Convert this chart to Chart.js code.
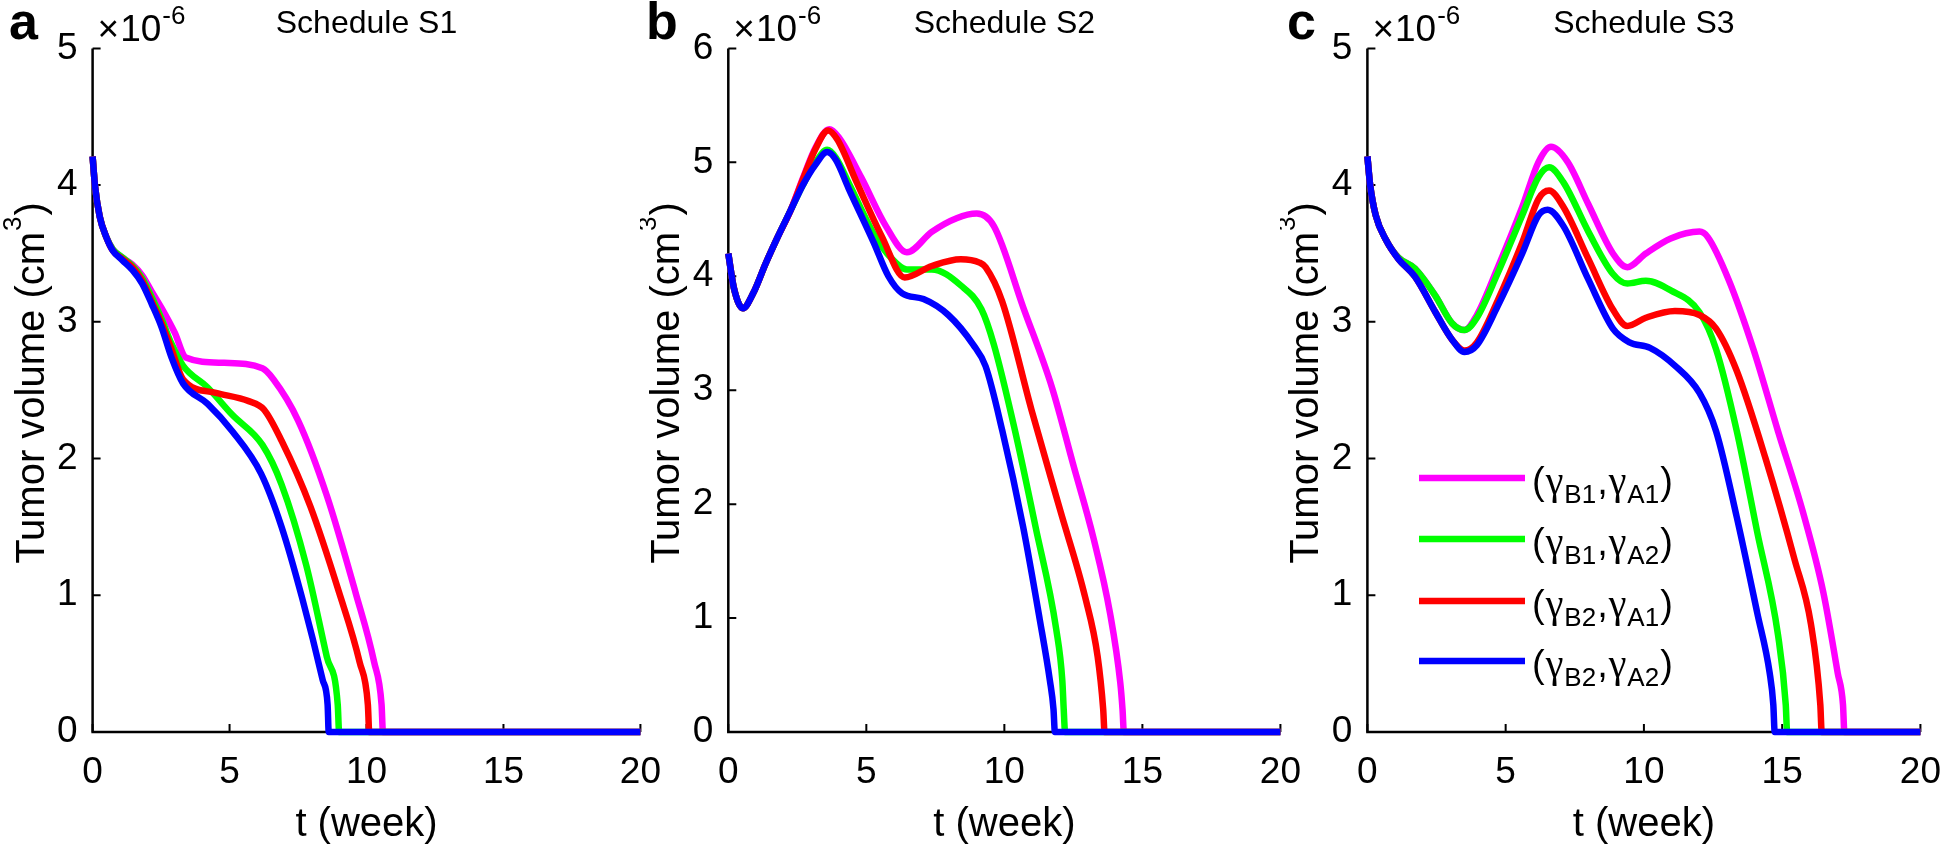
<!DOCTYPE html>
<html>
<head>
<meta charset="utf-8">
<script src="https://cdn.jsdelivr.net/npm/chart.js@4.4.1/dist/chart.umd.min.js"></script>
<style>
  html, body { margin: 0; padding: 0; background: #fff; overflow: hidden; width: 1946px; height: 844px; }
  .panel { position: absolute; top: 0; height: 844px; width: 680px; }
</style>
</head>
<body>
<div class="panel" style="left:0px"><canvas id="chartA"></canvas></div>
<div class="panel" style="left:640px"><canvas id="chartB"></canvas></div>
<div class="panel" style="left:1280px"><canvas id="chartC"></canvas></div>
<script>
// ---- data (volume in units of 1e-6 cm^3, time in weeks) ----
const xTicks = [0, 5, 10, 15, 20];
const seriesNames = ['(γB1,γA1)', '(γB1,γA2)', '(γB2,γA1)', '(γB2,γA2)'];
const seriesColors = ['#ff00ff', '#00ff00', '#ff0000', '#0000ff'];

// Schedule S1
const tA_mag = [0, 0.09, 0.26, 0.5, 0.74, 1.09, 1.45, 1.81, 2.16, 2.52, 3.0, 3.4, 4.8, 6.2, 6.6, 7.5, 8.55, 9.6, 10.28, 10.55, 10.6, 20];
const vA_mag = [4.21, 3.99, 3.77, 3.62, 3.53, 3.47, 3.42, 3.34, 3.22, 3.1, 2.92, 2.74, 2.7, 2.66, 2.58, 2.28, 1.73, 1.02, 0.51, 0.2, 0, 0];
const tA_grn = [0, 0.09, 0.26, 0.5, 0.74, 1.09, 1.45, 1.81, 2.16, 2.52, 2.88, 3.3, 4.2, 5.1, 6.2, 6.9, 7.8, 8.55, 8.95, 9.0, 20];
const vA_grn = [4.21, 3.99, 3.77, 3.62, 3.53, 3.47, 3.41, 3.32, 3.18, 3.02, 2.84, 2.68, 2.52, 2.32, 2.1, 1.81, 1.22, 0.55, 0.2, 0, 0];
const tA_red = [0, 0.09, 0.26, 0.5, 0.74, 1.09, 1.45, 1.81, 2.16, 2.52, 2.88, 3.3, 4.5, 5.7, 6.25, 6.9, 7.95, 9.0, 9.75, 10.05, 10.1, 20];
const vA_red = [4.21, 3.99, 3.77, 3.62, 3.52, 3.46, 3.4, 3.3, 3.15, 2.99, 2.8, 2.58, 2.48, 2.42, 2.36, 2.13, 1.65, 1.02, 0.51, 0.2, 0, 0];
const tA_blu = [0, 0.09, 0.26, 0.5, 0.74, 1.09, 1.45, 1.81, 2.16, 2.52, 2.88, 3.3, 4.2, 5.1, 6.15, 6.9, 7.65, 8.4, 8.58, 8.62, 20];
const vA_blu = [4.21, 3.99, 3.77, 3.62, 3.52, 3.45, 3.38, 3.28, 3.13, 2.96, 2.74, 2.55, 2.4, 2.2, 1.89, 1.5, 0.98, 0.38, 0.2, 0, 0];

// Schedule S2
const tB_mag = [0, 0.2, 0.53, 0.9, 1.35, 1.8, 2.26, 2.7, 3.16, 3.66, 4.0, 4.81, 5.71, 6.47, 7.37, 8.27, 9.0, 9.62, 10.68, 11.73, 12.48, 13.23, 13.83, 14.2, 14.28, 14.33, 20];
const vB_mag = [4.2, 3.9, 3.72, 3.85, 4.11, 4.35, 4.58, 4.86, 5.13, 5.29, 5.22, 4.87, 4.44, 4.21, 4.39, 4.51, 4.55, 4.44, 3.73, 3.02, 2.36, 1.7, 1.04, 0.43, 0.2, 0, 0];
const tB_grn = [0, 0.2, 0.53, 0.9, 1.35, 1.8, 2.26, 2.7, 3.16, 3.58, 3.9, 4.4, 5.3, 5.9, 6.47, 7.37, 8.42, 9.17, 9.62, 10.38, 11.13, 11.88, 12.1, 12.15, 12.2, 20];
const vB_grn = [4.2, 3.9, 3.72, 3.85, 4.11, 4.35, 4.58, 4.8, 5.0, 5.11, 5.04, 4.8, 4.36, 4.16, 4.06, 4.06, 3.92, 3.71, 3.4, 2.65, 1.8, 0.9, 0.45, 0.2, 0, 0];
const tB_red = [0, 0.2, 0.53, 0.9, 1.35, 1.8, 2.26, 2.7, 3.16, 3.62, 3.95, 4.66, 5.56, 6.39, 7.37, 8.42, 9.1, 9.32, 9.92, 10.98, 12.03, 12.93, 13.38, 13.58, 13.63, 20];
const vB_red = [4.2, 3.9, 3.72, 3.85, 4.11, 4.35, 4.58, 4.85, 5.12, 5.28, 5.2, 4.82, 4.35, 3.99, 4.09, 4.15, 4.12, 4.08, 3.78, 2.83, 1.94, 1.18, 0.66, 0.2, 0, 0];
const tB_blu = [0, 0.2, 0.53, 0.9, 1.35, 1.8, 2.26, 2.7, 3.16, 3.58, 3.9, 4.36, 5.26, 5.8, 6.3, 7.07, 7.97, 8.87, 9.32, 9.92, 10.68, 11.28, 11.65, 11.78, 11.83, 20];
const vB_blu = [4.2, 3.9, 3.72, 3.85, 4.11, 4.35, 4.58, 4.8, 4.98, 5.09, 5.02, 4.77, 4.3, 4.0, 3.85, 3.8, 3.66, 3.4, 3.21, 2.65, 1.8, 0.99, 0.45, 0.2, 0, 0];

// Schedule S3
const tC_mag = [0, 0.1, 0.3, 0.67, 1.12, 1.72, 2.46, 3.06, 3.51, 3.96, 4.7, 5.6, 6.19, 6.64, 7.24, 7.99, 8.88, 9.4, 10.07, 10.97, 12.01, 12.31, 13.06, 13.96, 14.85, 15.75, 16.49, 17.01, 17.2, 17.25, 20];
const vC_mag = [4.21, 4.0, 3.78, 3.6, 3.47, 3.39, 3.19, 2.99, 2.94, 3.05, 3.39, 3.84, 4.17, 4.28, 4.17, 3.86, 3.5, 3.4, 3.5, 3.61, 3.66, 3.62, 3.31, 2.8, 2.2, 1.61, 1.02, 0.43, 0.2, 0, 0];
const tC_grn = [0, 0.1, 0.3, 0.67, 1.12, 1.72, 2.46, 3.06, 3.51, 3.96, 4.7, 5.6, 6.19, 6.57, 7.09, 7.99, 8.88, 9.4, 10.07, 10.97, 12.01, 12.61, 13.36, 14.1, 14.85, 15.13, 15.18, 20];
const vC_grn = [4.21, 4.0, 3.78, 3.6, 3.47, 3.39, 3.19, 2.99, 2.94, 3.03, 3.35, 3.78, 4.06, 4.13, 4.02, 3.66, 3.35, 3.28, 3.3, 3.23, 3.07, 2.8, 2.2, 1.46, 0.71, 0.2, 0, 0];
const tC_red = [0, 0.1, 0.3, 0.67, 1.12, 1.72, 2.46, 3.06, 3.51, 3.96, 4.7, 5.6, 6.19, 6.57, 7.09, 7.99, 8.88, 9.4, 10.07, 11.12, 12.01, 12.61, 13.36, 14.4, 15.45, 16.04, 16.38, 16.43, 20];
const vC_red = [4.21, 4.0, 3.78, 3.6, 3.46, 3.33, 3.07, 2.87, 2.79, 2.85, 3.15, 3.58, 3.9, 3.96, 3.84, 3.46, 3.09, 2.97, 3.03, 3.08, 3.05, 2.95, 2.64, 2.0, 1.26, 0.79, 0.2, 0, 0];
const tC_blu = [0, 0.1, 0.3, 0.67, 1.12, 1.72, 2.46, 3.06, 3.51, 3.96, 4.7, 5.6, 6.19, 6.52, 7.09, 7.99, 8.88, 9.48, 10.22, 11.12, 12.01, 12.61, 13.36, 14.1, 14.55, 14.68, 14.73, 20];
const vC_blu = [4.21, 4.0, 3.78, 3.6, 3.46, 3.33, 3.07, 2.87, 2.78, 2.83, 3.11, 3.5, 3.78, 3.82, 3.7, 3.31, 2.95, 2.85, 2.81, 2.68, 2.48, 2.2, 1.57, 0.87, 0.43, 0.2, 0, 0];

const FONT = '"Liberation Sans", Arial, Helvetica, sans-serif';
const SERIF = '"Liberation Serif", "Times New Roman", serif';

function pts(ts, vs) {
    return ts.map((t, i) => ({ x: t, y: vs[i] }));
}

// draws MATLAB-like axes, labels, titles and (optionally) the legend
function decoPlugin(p) {
    return {
        id: 'deco' + p.letter,
        beforeDatasetsDraw(chart) {
            const ctx = chart.ctx;
            const a = chart.chartArea;
            const xs = chart.scales.x, ys = chart.scales.y;
            ctx.save();
            ctx.strokeStyle = '#000';
            ctx.lineWidth = 2.5;
            ctx.beginPath();
            ctx.moveTo(a.left, a.top);
            ctx.lineTo(a.left, a.bottom);
            ctx.lineTo(a.right, a.bottom);
            ctx.stroke();
            ctx.lineWidth = 2;
            ctx.beginPath();
            ys.ticks.forEach(tk => {
                const y = ys.getPixelForValue(tk.value);
                ctx.moveTo(a.left, y);
                ctx.lineTo(a.left + 8, y);
            });
            xs.ticks.forEach(tk => {
                const x = xs.getPixelForValue(tk.value);
                ctx.moveTo(x, a.bottom);
                ctx.lineTo(x, a.bottom - 8);
            });
            ctx.stroke();
            ctx.restore();
        },
        afterDraw(chart) {
            const ctx = chart.ctx;
            const a = chart.chartArea;
            const cx = (a.left + a.right) / 2;
            ctx.save();
            ctx.fillStyle = '#000';
            ctx.textAlign = 'left';
            ctx.textBaseline = 'alphabetic';

            // panel letter
            ctx.font = 'bold 52px ' + FONT;
            ctx.fillText(p.letter, p.letterX, 39);

            // title
            ctx.font = '32px ' + FONT;
            ctx.textAlign = 'center';
            ctx.fillText(p.title, cx, 33);

            // exponent label
            ctx.textAlign = 'left';
            let x = a.left + 5;
            ctx.font = '37px ' + FONT;
            ctx.fillText('×', x, 41);
            x += ctx.measureText('×').width + 1;
            ctx.fillText('10', x, 41);
            x += ctx.measureText('10').width + 1;
            ctx.font = '26px ' + FONT;
            ctx.fillText('-6', x, 24);

            // x axis title
            ctx.font = '40px ' + FONT;
            ctx.textAlign = 'center';
            ctx.fillText('t (week)', cx, 836);

            // y axis title with superscript
            ctx.textAlign = 'left';
            ctx.translate(a.left - 49, 383);
            ctx.rotate(-Math.PI / 2);
            ctx.font = '40px ' + FONT;
            const w1 = ctx.measureText('Tumor volume (cm').width;
            const w3 = ctx.measureText(')').width;
            ctx.font = '26px ' + FONT;
            const w2 = ctx.measureText('3').width;
            const start = -(w1 + w2 + w3 + 2) / 2;
            ctx.font = '40px ' + FONT;
            ctx.fillText('Tumor volume (cm', start, 0);
            ctx.fillText(')', start + w1 + w2 + 2, 0);
            ctx.font = '26px ' + FONT;
            ctx.fillText('3', start + w1 + 1, -23);
            ctx.restore();

            if (p.legend) drawLegend(ctx, p.legend);
        }
    };
}

function drawLegend(ctx, lg) {
    ctx.save();
    ctx.textBaseline = 'alphabetic';
    ctx.textAlign = 'left';
    seriesNames.forEach((name, i) => {
        const y = lg.rows[i];
        ctx.strokeStyle = seriesColors[i];
        ctx.lineWidth = 6.5;
        ctx.beginPath();
        ctx.moveTo(lg.x0, y);
        ctx.lineTo(lg.x1, y);
        ctx.stroke();

        // name like (γB1,γA1): subscripts after each γ
        const b = name.substr(2, 2), c = name.substr(6, 2);
        const parts = [
            ['(', '38px ' + FONT, 0],
            ['γ', '40px ' + SERIF, 0],
            [b, '26px ' + FONT, 9],
            [',', '38px ' + FONT, 0],
            ['γ', '40px ' + SERIF, 0],
            [c, '26px ' + FONT, 9],
            [')', '38px ' + FONT, 0]
        ];
        let x = lg.tx;
        ctx.fillStyle = '#000';
        parts.forEach(([txt, font, dy]) => {
            ctx.font = font;
            ctx.fillText(txt, x, y + 16 + dy);
            x += ctx.measureText(txt).width + 1;
        });
    });
    ctx.restore();
}

function makePanel(id, p) {
    const datasets = [
        { data: pts(p.blu[0], p.blu[1]), borderColor: seriesColors[3] },
        { data: pts(p.red[0], p.red[1]), borderColor: seriesColors[2] },
        { data: pts(p.grn[0], p.grn[1]), borderColor: seriesColors[1] },
        { data: pts(p.mag[0], p.mag[1]), borderColor: seriesColors[0] }
    ].map(d => Object.assign(d, {
        borderWidth: 6.5,
        pointRadius: 0,
        fill: false,
        clip: false,
        cubicInterpolationMode: 'monotone',
        borderJoinStyle: 'round'
    }));

    return new Chart(document.getElementById(id), {
        type: 'line',
        data: { datasets: datasets },
        options: {
            responsive: true,
            maintainAspectRatio: false,
            animation: false,
            events: [],
            layout: { padding: { top: 48.4, right: p.padRight, left: 0, bottom: 0 } },
            plugins: { legend: { display: false }, tooltip: { enabled: false }, title: { display: false } },
            scales: {
                x: {
                    type: 'linear',
                    min: 0,
                    max: 20,
                    afterBuildTicks: s => { s.ticks = xTicks.map(v => ({ value: v })); },
                    ticks: { color: '#000', font: { family: FONT, size: 37 }, padding: 19, maxRotation: 0, autoSkip: false },
                    grid: { display: false, drawTicks: false },
                    border: { display: false },
                    afterFit: s => { s.height = 112; }
                },
                y: {
                    type: 'linear',
                    min: 0,
                    max: p.yMax,
                    ticks: { stepSize: 1, color: '#000', font: { family: FONT, size: 37 }, padding: 15 },
                    grid: { display: false, drawTicks: false },
                    border: { display: false },
                    afterFit: s => { s.width = p.yWidth; }
                }
            }
        },
        plugins: [decoPlugin(p)]
    });
}

makePanel('chartA', {
    letter: 'a', letterX: 9, title: 'Schedule S1', yMax: 5, yWidth: 92.6, padRight: 26.3,
    mag: [tA_mag, vA_mag], grn: [tA_grn, vA_grn], red: [tA_red, vA_red], blu: [tA_blu, vA_blu]
});
makePanel('chartB', {
    letter: 'b', letterX: 6, title: 'Schedule S2', yMax: 6, yWidth: 88.3, padRight: 32,
    mag: [tB_mag, vB_mag], grn: [tB_grn, vB_grn], red: [tB_red, vB_red], blu: [tB_blu, vB_blu]
});
makePanel('chartC', {
    letter: 'c', letterX: 7, title: 'Schedule S3', yMax: 5, yWidth: 87.4, padRight: 32,
    mag: [tC_mag, vC_mag], grn: [tC_grn, vC_grn], red: [tC_red, vC_red], blu: [tC_blu, vC_blu],
    legend: { x0: 139, x1: 245, tx: 252, rows: [478, 539, 601, 661] }
});
</script>
</body>
</html>
